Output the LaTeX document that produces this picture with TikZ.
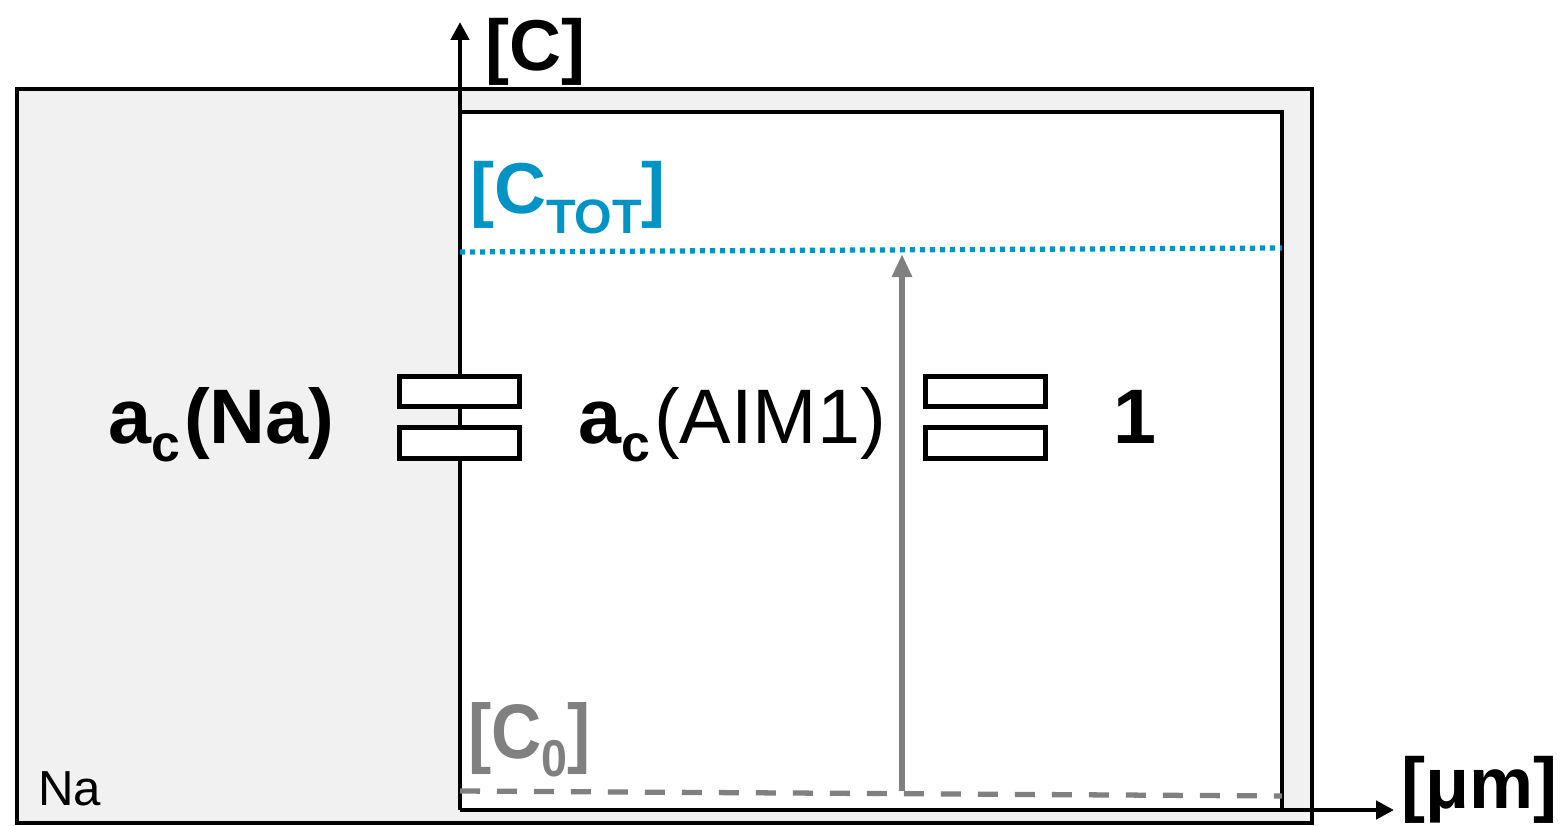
\documentclass[tikz,border=0pt]{standalone}
\usepackage{fontspec}
\setmainfont{Liberation Sans}
\usepackage{graphicx}
\usepackage{xcolor}
\usetikzlibrary{arrows.meta}

\definecolor{totblue}{RGB}{0,147,198}
\definecolor{zerogray}{RGB}{128,128,128}
\definecolor{phasefill}{RGB}{241,241,241}
\newcommand{\lowsub}[2][0.24em]{\raisebox{-#1}{\scalebox{0.67}{#2}}}

\begin{document}
\begin{tikzpicture}[
    x=0.02cm, y=-0.02cm,
    wall/.style={draw=black, line width=2.8pt},
    plate/.style={rectangle, draw, line width=2.8pt, fill=white, minimum width=2.39cm, minimum height=0.61cm, inner sep=0pt},
    axis/.style={line width=2.8pt, -{Triangle[width=0.36cm,length=0.36cm]}},
    biglabel/.style={anchor=base west, inner sep=0pt, font=\fontsize{44}{48}\selectfont},
    brlabel/.style={anchor=base west, inner sep=0pt, font=\bfseries\fontsize{41}{46}\selectfont}
]
\useasboundingbox (0,0) rectangle (1561,825);

% Phases
\draw[wall, fill=phasefill] (17,89) rectangle (1312,823);
\fill[white] (460,112) rectangle (1282,810);
\draw[wall] (460,112) -- (1282,112) -- (1282,810);

% Axes
\coordinate (origin) at (460,810);
\coordinate (ytip) at (460,22);
\coordinate (xtip) at (1394,810);
\draw[axis] (origin) -- (ytip);
\draw[axis] (origin) -- (xtip);

% Concentration levels
\coordinate (totW) at (460,252);
\coordinate (totE) at (1282,248);
\coordinate (zeroW) at (460,791);
\coordinate (zeroE) at (1282,796);
\draw[totblue, line width=3pt, dash pattern=on 0.1cm off 0.1cm] (totW) -- (totE);
\draw[zerogray, line width=3pt, dash pattern=on 0.4cm off 0.34cm] (zeroW) -- (zeroE);

\coordinate (riseFoot) at (902,791);
\coordinate (riseTop) at (902,254);
\draw[zerogray, line width=3.6pt, -{Triangle[width=0.38cm,length=0.46cm]}] (riseFoot) -- (riseTop);

% Equilibrium plates
\node[plate] (naTop) at (459.5,391.5) {};
\node[plate] (naBot) at (459.5,443) {};
\node[plate] (aimTop) at (985.5,391.5) {};
\node[plate] (aimBot) at (985.5,443) {};

% Labels
\node[biglabel] (acNa) at (108,443) {\bfseries a\lowsub{c}\hspace{0.05em}(Na)};
\node[biglabel] (acAIM) at (578,443) {\textbf{a\lowsub{c}}\hspace{0.05em}(AIM1)};
\node[biglabel, font=\bfseries\fontsize{44}{48}\selectfont] (one) at (1113,443) {1};
\node[anchor=base west, inner sep=0pt, font=\fontsize{28}{32}\selectfont] (naPhase) at (38,805) {Na};
\node[brlabel] (cLabel) at (485,70) {[C]};
\node[brlabel, text=totblue] (totLabel) at (470,213) {[C\lowsub[0.28em]{TOT}]};
\node[brlabel, text=zerogray, font=\bfseries\fontsize{44}{48}\selectfont] (zeroLabel) at (468,758) {\scalebox{0.9}[1]{[C\lowsub{0}]}};
\node[brlabel] (umLabel) at (1401,808) {[μm]};

\end{tikzpicture}
\end{document}
